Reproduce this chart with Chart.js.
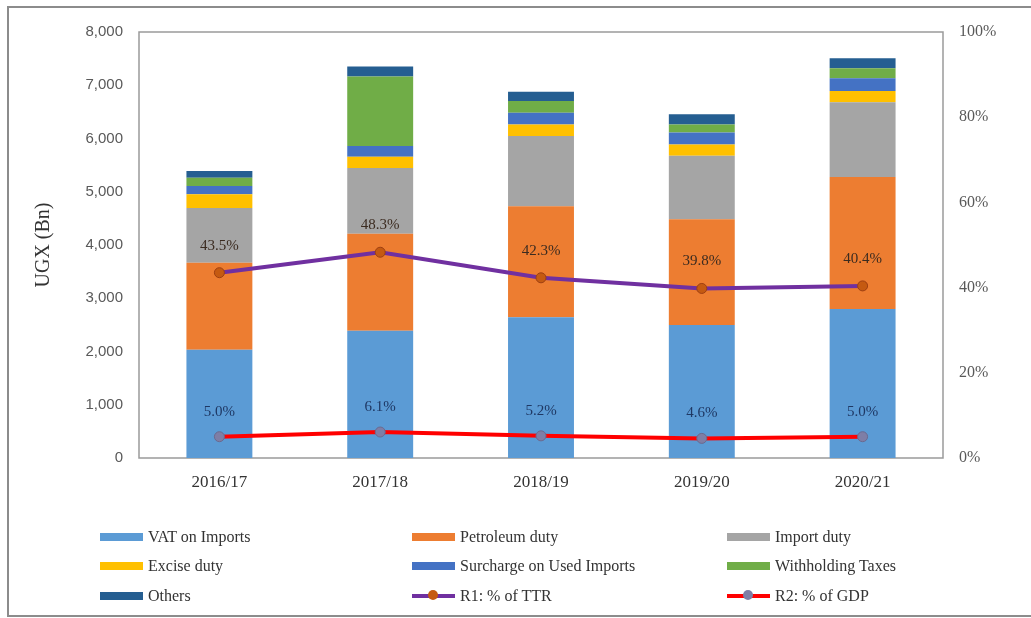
<!DOCTYPE html>
<html>
<head>
<meta charset="utf-8">
<title>Import taxes chart</title>
<script src="https://cdn.jsdelivr.net/npm/chart.js@4.4.1/dist/chart.umd.min.js"></script>
<style>
  body { margin: 0; background: #fff; }
  #wrap { position: relative; width: 1031px; height: 618px; }
  #frame { position: absolute; left: 7px; top: 6px; width: 1030px; height: 607px;
           border-left: 2px solid #8c8c8c; border-top: 2px solid #8c8c8c; border-bottom: 2px solid #8c8c8c; }
  #legend { position: absolute; left: 0; top: 0; width: 1031px; height: 618px; pointer-events: none;
            font-family: "Liberation Serif", serif; font-size: 16px; color: #333; }
  .item { position: absolute; height: 20px; display: flex; align-items: center; white-space: nowrap; }
  .sw { width: 43px; height: 8px; margin-right: 5px; position: relative; }
  .ln { width: 43px; height: 4px; margin-right: 5px; position: relative; }
  .ln i { position: absolute; left: 16px; top: -4px; width: 10px; height: 10px; border-radius: 50%; }
</style>
</head>
<body>
<div id="wrap">
  <canvas id="myChart" width="1031" height="618"></canvas>
  <div id="frame"></div>
  <div id="legend"></div>
</div>
<script>
const years = ["2016/17", "2017/18", "2018/19", "2019/20", "2020/21"];

// UGX Bn
const vatImports = [2034, 2392, 2642, 2499, 2800];
const petroleumDuty = [1633, 1821, 2085, 1983, 2479];
const importDuty = [1028, 1235, 1318, 1192, 1401];
const exciseDuty = [258, 207, 220, 215, 213];
const surcharge = [157, 202, 219, 226, 239];
const withholding = [155, 1305, 220, 150, 188];
const others = [125, 188, 176, 189, 188];

// ratios in %
const ttrShare = [43.5, 48.3, 42.3, 39.8, 40.4];
const gdpShare = [5.0, 6.1, 5.2, 4.6, 5.0];

const barNames = ["VAT on Imports", "Petroleum duty", "Import duty", "Excise duty",
  "Surcharge on Used Imports", "Withholding Taxes", "Others"];
const barColors = ["#5B9BD5", "#ED7D31", "#A5A5A5", "#FFC000", "#4472C4", "#70AD47", "#255E91"];
const barValues = [vatImports, petroleumDuty, importDuty, exciseDuty, surcharge, withholding, others];

const serif = "'Liberation Serif', serif";

const barSets = barNames.map((name, i) => ({
  type: "bar",
  label: name,
  data: barValues[i],
  backgroundColor: barColors[i],
  yAxisID: "y",
  stack: "taxes",
  order: 2,
  barPercentage: 0.41,
  categoryPercentage: 1,
}));

const lineSets = [
  {
    type: "line",
    label: "R1: % of TTR",
    data: ttrShare,
    yAxisID: "y1",
    borderColor: "#7030A0",
    borderWidth: 4,
    pointRadius: 5,
    pointBackgroundColor: "#C55A11",
    pointBorderColor: "#9E3F12",
    pointBorderWidth: 1,
    tension: 0,
    order: 1,
    labelColor: "#3b2b20",
    labelOffset: 27,
  },
  {
    type: "line",
    label: "R2: % of GDP",
    data: gdpShare,
    yAxisID: "y1",
    borderColor: "#FF0000",
    borderWidth: 4,
    pointRadius: 5,
    pointBackgroundColor: "#7E7EA6",
    pointBorderColor: "#6A6A90",
    pointBorderWidth: 1,
    tension: 0,
    order: 0,
    labelColor: "#1F3864",
    labelOffset: 25,
  },
];

// plot frame + % labels over line points
const extras = {
  id: "extras",
  beforeDatasetsDraw(chart) {
    const { ctx, chartArea: a } = chart;
    ctx.save();
    ctx.strokeStyle = "#9a9a9a";
    ctx.lineWidth = 1.5;
    ctx.strokeRect(a.left, a.top, a.right - a.left, a.bottom - a.top);
    ctx.restore();
  },
  afterDatasetsDraw(chart) {
    const ctx = chart.ctx;
    ctx.save();
    ctx.font = "15px " + serif;
    ctx.textAlign = "center";
    ctx.textBaseline = "middle";
    chart.data.datasets.forEach((ds, i) => {
      if (ds.type !== "line") return;
      chart.getDatasetMeta(i).data.forEach((pt, j) => {
        ctx.fillStyle = ds.labelColor;
        ctx.fillText(ds.data[j].toFixed(1) + "%", pt.x, pt.y - ds.labelOffset);
      });
    });
    ctx.restore();
  },
};

const ctx = document.getElementById("myChart").getContext("2d");
new Chart(ctx, {
  data: { labels: years, datasets: [...barSets, ...lineSets] },
  options: {
    responsive: false,
    animation: false,
    layout: { padding: { left: 32, right: 0, top: 32, bottom: 0 } },
    plugins: { legend: { display: false }, tooltip: { enabled: false } },
    scales: {
      x: {
        stacked: true,
        grid: { display: false, drawTicks: false },
        border: { display: false },
        ticks: { padding: 14, color: "#333", font: { family: serif, size: 17 } },
        afterFit: (s) => { s.height = 160; },
      },
      y: {
        stacked: true,
        position: "left",
        min: 0,
        max: 8000,
        grid: { display: false, drawTicks: false },
        border: { display: false },
        ticks: {
          stepSize: 1000,
          padding: 16,
          color: "#595959",
          font: { family: "'Liberation Sans', Arial, sans-serif", size: 15 },
          callback: (v) => v.toLocaleString("en-US"),
        },
        title: { display: true, text: "UGX (Bn)", color: "#333", font: { family: serif, size: 20 }, padding: 0 },
        afterFit: (s) => { s.width = 107; },
      },
      y1: {
        position: "right",
        min: 0,
        max: 100,
        grid: { display: false, drawTicks: false },
        border: { display: false },
        ticks: {
          stepSize: 20,
          padding: 16,
          color: "#595959",
          font: { family: serif, size: 16 },
          callback: (v) => v + "%",
        },
        afterFit: (s) => { s.width = 88; },
      },
    },
  },
  plugins: [extras],
});

// legend: 3 columns x 3 rows, built from the dataset list
const legendCols = [100, 412, 727];
const legendRows = [537, 566, 596];
const legend = document.getElementById("legend");
[...barSets, ...lineSets].forEach((ds, i) => {
  const el = document.createElement("div");
  el.className = "item";
  el.style.left = legendCols[i % 3] + "px";
  el.style.top = legendRows[Math.floor(i / 3)] - 10 + "px";
  const key = document.createElement("span");
  if (ds.type === "bar") {
    key.className = "sw";
    key.style.background = ds.backgroundColor;
  } else {
    key.className = "ln";
    key.style.background = ds.borderColor;
    const dot = document.createElement("i");
    dot.style.background = ds.pointBackgroundColor;
    key.appendChild(dot);
  }
  el.appendChild(key);
  el.appendChild(document.createTextNode(ds.label));
  legend.appendChild(el);
});
</script>
</body>
</html>
